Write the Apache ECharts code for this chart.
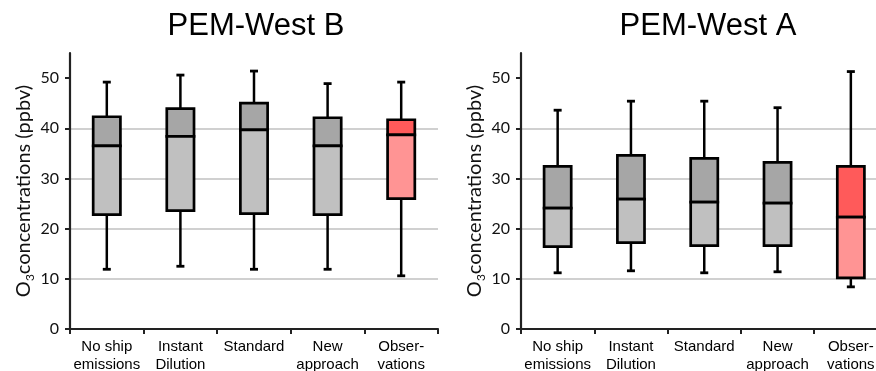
<!DOCTYPE html>
<html>
<head>
<meta charset="utf-8">
<script src="https://cdn.jsdelivr.net/npm/echarts@6/dist/echarts.min.js"></script>
<style>html,body{margin:0;padding:0;background:#fff;}#c{width:876px;height:371px;}</style>
</head>
<body>
<div id="c"></div>
<script>
var categories = ['No ship\nemissions', 'Instant\nDilution', 'Standard', 'New\napproach', 'Obser-\nvations'];
var yTicks = [0, 10, 20, 30, 40, 50];
var titleB = 'PEM-West B';
var titleA = 'PEM-West A';
// PEM-West B
var bMin = [11.9, 12.5, 11.9, 11.9, 10.6];
var bQ1  = [22.8, 23.6, 23.0, 22.8, 26.0];
var bMed = [36.5, 38.4, 39.7, 36.5, 38.7];
var bQ3  = [42.3, 43.9, 45.0, 42.1, 41.7];
var bMax = [49.2, 50.6, 51.4, 48.9, 49.2];
// PEM-West A
var aMin = [11.2, 11.6, 11.2, 11.4, 8.4];
var aQ1  = [16.4, 17.2, 16.6, 16.6, 10.2];
var aMed = [24.1, 25.9, 25.3, 25.1, 22.3];
var aQ3  = [32.4, 34.6, 34.0, 33.2, 32.4];
var aMax = [43.6, 45.4, 45.4, 44.1, 51.3];

var obsIndex = 4;
var colors = {
  grayUp: '#a6a6a6', grayLow: '#c0c0c0',
  redUp: '#ff5a5a', redLow: '#ff9494'
};

function buildData(mn, q1, md, q3, mx) {
  return categories.map(function (c, i) { return [i, mn[i], q1[i], md[i], q3[i], mx[i]]; });
}

function renderBox(params, api) {
  var idx = api.value(0);
  var pMin = api.coord([idx, api.value(1)]);
  var pQ1 = api.coord([idx, api.value(2)]);
  var pMed = api.coord([idx, api.value(3)]);
  var pQ3 = api.coord([idx, api.value(4)]);
  var pMax = api.coord([idx, api.value(5)]);
  var cx = pMed[0];
  var bw = api.size([1, 0])[0] * 0.37;
  var cw = 8;
  var isObs = idx === obsIndex;
  var up = isObs ? colors.redUp : colors.grayUp;
  var low = isObs ? colors.redLow : colors.grayLow;
  var lw = 2.7;
  var stroke = '#000';
  return {
    type: 'group',
    children: [
      { type: 'line', shape: { x1: cx, y1: pMax[1], x2: cx, y2: pQ3[1] }, style: { stroke: stroke, lineWidth: 2.5 } },
      { type: 'line', shape: { x1: cx, y1: pQ1[1], x2: cx, y2: pMin[1] }, style: { stroke: stroke, lineWidth: 2.5 } },
      { type: 'line', shape: { x1: cx - cw / 2, y1: pMax[1], x2: cx + cw / 2, y2: pMax[1] }, style: { stroke: stroke, lineWidth: 2.8 } },
      { type: 'line', shape: { x1: cx - cw / 2, y1: pMin[1], x2: cx + cw / 2, y2: pMin[1] }, style: { stroke: stroke, lineWidth: 2.8 } },
      { type: 'rect', shape: { x: cx - bw / 2, y: pQ3[1], width: bw, height: pMed[1] - pQ3[1] }, style: { fill: up, stroke: stroke, lineWidth: lw } },
      { type: 'rect', shape: { x: cx - bw / 2, y: pMed[1], width: bw, height: pQ1[1] - pMed[1] }, style: { fill: low, stroke: stroke, lineWidth: lw } }
    ]
  };
}

function xAxisCfg(gi) {
  return {
    type: 'category', gridIndex: gi, data: categories,
    boundaryGap: true,
    axisLine: { lineStyle: { color: '#222', width: 2.2 } },
    axisTick: { show: true, length: 5, lineStyle: { color: '#222', width: 2 } },
    axisLabel: { interval: 0, color: '#000', fontFamily: 'Liberation Sans', fontSize: 15, lineHeight: 18, margin: 9 }
  };
}
function yAxisCfg(gi) {
  return {
    type: 'value', gridIndex: gi, min: 0, max: 55, interval: 10,
    name: '{o|O}{s|3}{o|concentrations (ppbv)}',
    nameLocation: 'middle', nameGap: 33, nameRotate: 90,
    nameTextStyle: {
      rich: {
        o: { fontFamily: 'Lato', fontSize: 20, lineHeight: 26, color: '#111' },
        s: { fontFamily: 'Lato', fontSize: 12, lineHeight: 12, verticalAlign: 'bottom', color: '#111' }
      }
    },
    axisLine: { show: true, lineStyle: { color: '#222', width: 2.2 } },
    axisTick: { show: true, length: 5, customValues: yTicks, lineStyle: { color: '#222', width: 2 } },
    axisLabel: { customValues: yTicks, color: '#111', fontFamily: 'Lato', fontSize: 16, margin: 11 },
    splitLine: { show: true, showMinLine: false, showMaxLine: false, lineStyle: { color: '#c0c0c0', width: 1.5 } }
  };
}

var chart = echarts.init(document.getElementById('c'), null, { renderer: 'canvas' });
chart.setOption({
  animation: false,
  backgroundColor: '#fff',
  title: [
    { text: titleB, left: 251, top: 6, textAlign: 'center', textStyle: { fontFamily: 'Liberation Sans', fontSize: 31, fontWeight: 'normal', color: '#000' } },
    { text: titleA, left: 703, top: 6, textAlign: 'center', textStyle: { fontFamily: 'Liberation Sans', fontSize: 31, fontWeight: 'normal', color: '#000' } }
  ],
  grid: [
    { left: 70, right: 438, top: 53, bottom: 42, outerBoundsMode: 'none', containLabel: false },
    { left: 521, right: -11.5, top: 53, bottom: 42, outerBoundsMode: 'none', containLabel: false }
  ],
  xAxis: [xAxisCfg(0), xAxisCfg(1)],
  yAxis: [yAxisCfg(0), yAxisCfg(1)],
  series: [
    { type: 'custom', xAxisIndex: 0, yAxisIndex: 0, renderItem: renderBox, data: buildData(bMin, bQ1, bMed, bQ3, bMax), encode: { x: 0, y: [1, 2, 3, 4, 5] }, clip: false },
    { type: 'custom', xAxisIndex: 1, yAxisIndex: 1, renderItem: renderBox, data: buildData(aMin, aQ1, aMed, aQ3, aMax), encode: { x: 0, y: [1, 2, 3, 4, 5] }, clip: false }
  ]
});
</script>
</body>
</html>
